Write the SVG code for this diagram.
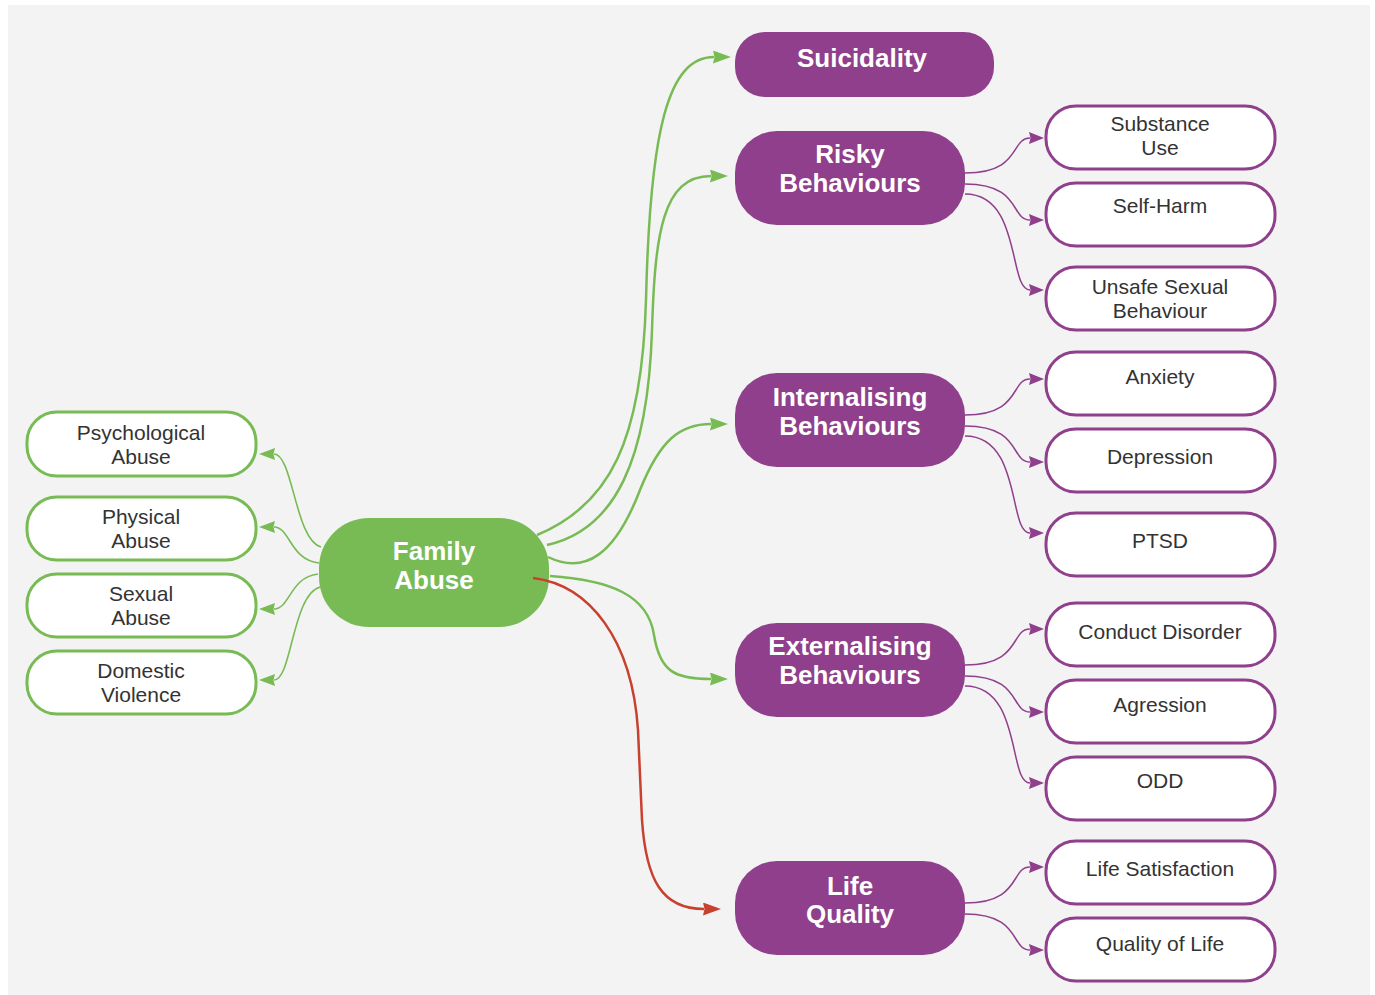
<svg xmlns="http://www.w3.org/2000/svg" width="1375" height="995" viewBox="0 0 1375 995">
  <style>
    .bg { fill: #f3f3f3; }
    .src { fill: #78bb55; }
    .leaf-g { fill: #ffffff; stroke: #78bb55; stroke-width: 3; }
    .hub { fill: #8f3f8b; }
    .leaf-p { fill: #ffffff; stroke: #8f3f8b; stroke-width: 3; }
    .t-hub { font-family: "Liberation Sans", Arial, sans-serif; font-weight: bold; font-size: 26px; fill: #ffffff; text-anchor: middle; }
    .t-leaf { font-family: "Liberation Sans", Arial, sans-serif; font-size: 21px; fill: #333333; text-anchor: middle; }
    .c-g { fill: none; stroke: #78bb55; stroke-width: 2.5; }
    .c-gl { fill: none; stroke: #78bb55; stroke-width: 1.6; }
    .c-r { fill: none; stroke: #c8402e; stroke-width: 2.5; }
    .c-p { fill: none; stroke: #8f3f8b; stroke-width: 1.5; }
  </style>
  <defs>
    <marker id="ag" viewBox="0 0 18 13" markerWidth="18" markerHeight="13" markerUnits="userSpaceOnUse" refX="1" refY="6.5" orient="auto">
      <path d="M0,0 L18,6.5 L0,13 L1.5,6.5 Z" fill="#78bb55"/>
    </marker>
    <marker id="agl" viewBox="0 0 16 12" markerWidth="16" markerHeight="12" markerUnits="userSpaceOnUse" refX="1" refY="6" orient="auto">
      <path d="M0,0 L16,6 L0,12 L1.5,6 Z" fill="#78bb55"/>
    </marker>
    <marker id="ar" viewBox="0 0 18 13" markerWidth="18" markerHeight="13" markerUnits="userSpaceOnUse" refX="1" refY="6.5" orient="auto">
      <path d="M0,0 L18,6.5 L0,13 L1.5,6.5 Z" fill="#c8402e"/>
    </marker>
    <marker id="ap" viewBox="0 0 15 12" markerWidth="15" markerHeight="12" markerUnits="userSpaceOnUse" refX="1" refY="6" orient="auto">
      <path d="M0,0 L15,6 L0,12 L1.5,6 Z" fill="#8f3f8b"/>
    </marker>
  </defs>

  <rect class="bg" x="8" y="5" width="1362" height="990"/>

  <g id="family-abuse">
    <rect class="src" x="319" y="518" width="230" height="109" rx="50"/>
    <text class="t-hub" x="434" y="560">Family</text>
    <text class="t-hub" x="434" y="589">Abuse</text>
  </g>

  <g id="psychological-abuse">
    <rect class="leaf-g" x="27" y="412" width="229" height="64" rx="30"/>
    <text class="t-leaf" x="141" y="440">Psychological</text>
    <text class="t-leaf" x="141" y="464">Abuse</text>
  </g>
  <g id="physical-abuse">
    <rect class="leaf-g" x="27" y="497" width="229" height="63" rx="30"/>
    <text class="t-leaf" x="141" y="524">Physical</text>
    <text class="t-leaf" x="141" y="548">Abuse</text>
  </g>
  <g id="sexual-abuse">
    <rect class="leaf-g" x="27" y="574" width="229" height="63" rx="30"/>
    <text class="t-leaf" x="141" y="601">Sexual</text>
    <text class="t-leaf" x="141" y="625">Abuse</text>
  </g>
  <g id="domestic-violence">
    <rect class="leaf-g" x="27" y="651" width="229" height="63" rx="30"/>
    <text class="t-leaf" x="141" y="678">Domestic</text>
    <text class="t-leaf" x="141" y="702">Violence</text>
  </g>

  <g id="suicidality">
    <rect class="hub" x="735" y="32" width="259" height="65" rx="30"/>
    <text class="t-hub" x="862" y="67">Suicidality</text>
  </g>
  <g id="risky-behaviours">
    <rect class="hub" x="735" y="131" width="230" height="94" rx="42"/>
    <text class="t-hub" x="850" y="163">Risky</text>
    <text class="t-hub" x="850" y="192">Behaviours</text>
  </g>
  <g id="internalising-behaviours">
    <rect class="hub" x="735" y="373" width="230" height="94" rx="42"/>
    <text class="t-hub" x="850" y="406">Internalising</text>
    <text class="t-hub" x="850" y="435">Behaviours</text>
  </g>
  <g id="externalising-behaviours">
    <rect class="hub" x="735" y="623" width="230" height="94" rx="42"/>
    <text class="t-hub" x="850" y="655">Externalising</text>
    <text class="t-hub" x="850" y="684">Behaviours</text>
  </g>
  <g id="life-quality">
    <rect class="hub" x="735" y="861" width="230" height="94" rx="42"/>
    <text class="t-hub" x="850" y="895">Life</text>
    <text class="t-hub" x="850" y="923">Quality</text>
  </g>

  <g id="substance-use">
    <rect class="leaf-p" x="1046" y="106" width="229" height="63" rx="30"/>
    <text class="t-leaf" x="1160" y="131">Substance</text>
    <text class="t-leaf" x="1160" y="155">Use</text>
  </g>
  <g id="self-harm">
    <rect class="leaf-p" x="1046" y="183" width="229" height="63" rx="30"/>
    <text class="t-leaf" x="1160" y="213">Self-Harm</text>
  </g>
  <g id="unsafe-sexual-behaviour">
    <rect class="leaf-p" x="1046" y="267" width="229" height="63" rx="30"/>
    <text class="t-leaf" x="1160" y="294">Unsafe Sexual</text>
    <text class="t-leaf" x="1160" y="318">Behaviour</text>
  </g>
  <g id="anxiety">
    <rect class="leaf-p" x="1046" y="352" width="229" height="63" rx="30"/>
    <text class="t-leaf" x="1160" y="384">Anxiety</text>
  </g>
  <g id="depression">
    <rect class="leaf-p" x="1046" y="429" width="229" height="63" rx="30"/>
    <text class="t-leaf" x="1160" y="464">Depression</text>
  </g>
  <g id="ptsd">
    <rect class="leaf-p" x="1046" y="513" width="229" height="63" rx="30"/>
    <text class="t-leaf" x="1160" y="548">PTSD</text>
  </g>
  <g id="conduct-disorder">
    <rect class="leaf-p" x="1046" y="603" width="229" height="63" rx="30"/>
    <text class="t-leaf" x="1160" y="639">Conduct Disorder</text>
  </g>
  <g id="agression">
    <rect class="leaf-p" x="1046" y="680" width="229" height="63" rx="30"/>
    <text class="t-leaf" x="1160" y="712">Agression</text>
  </g>
  <g id="odd">
    <rect class="leaf-p" x="1046" y="757" width="229" height="63" rx="30"/>
    <text class="t-leaf" x="1160" y="788">ODD</text>
  </g>
  <g id="life-satisfaction">
    <rect class="leaf-p" x="1046" y="841" width="229" height="63" rx="30"/>
    <text class="t-leaf" x="1160" y="876">Life Satisfaction</text>
  </g>
  <g id="quality-of-life">
    <rect class="leaf-p" x="1046" y="918" width="229" height="63" rx="30"/>
    <text class="t-leaf" x="1160" y="951">Quality of Life</text>
  </g>

  <g id="connectors">
    <!-- Family Abuse to left types -->
    <path class="c-gl" d="M321,547 C295,540 293,454 274,454" marker-end="url(#agl)"/>
    <path class="c-gl" d="M319,563 C290,560 290,527 274,527" marker-end="url(#agl)"/>
    <path class="c-gl" d="M318,574 C290,577 290,609 274,609" marker-end="url(#agl)"/>
    <path class="c-gl" d="M320,587 C292,595 292,680 274,680" marker-end="url(#agl)"/>
    <!-- Family Abuse to outcomes -->
    <path class="c-g" d="M537,535 C610,505 642,440 646,300 C650,130 668,57 714,57" marker-end="url(#ag)"/>
    <path class="c-g" d="M547,545 C615,530 648,460 652,330 C655,235 662,176 711,176" marker-end="url(#ag)"/>
    <path class="c-g" d="M548,557 C585,575 615,555 640,490 C660,440 680,424 711,424" marker-end="url(#ag)"/>
    <path class="c-g" d="M550,576 C610,580 648,595 654,635 C660,672 675,679 711,679" marker-end="url(#ag)"/>
    <path class="c-r" d="M533,578 C590,585 632,640 638,730 L642,820 C646,880 662,909 704,909" marker-end="url(#ar)"/>
    <!-- Risky Behaviours -->
    <path class="c-p" d="M965,173 C1022,173 1010,138 1030,138" marker-end="url(#ap)"/>
    <path class="c-p" d="M965,184 C1022,184 1010,220 1030,220" marker-end="url(#ap)"/>
    <path class="c-p" d="M965,194 C1022,194 1008,290 1030,290" marker-end="url(#ap)"/>
    <!-- Internalising -->
    <path class="c-p" d="M965,415 C1022,415 1010,379 1030,379" marker-end="url(#ap)"/>
    <path class="c-p" d="M965,426 C1022,426 1010,462 1030,462" marker-end="url(#ap)"/>
    <path class="c-p" d="M965,436 C1022,436 1008,533 1030,533" marker-end="url(#ap)"/>
    <!-- Externalising -->
    <path class="c-p" d="M965,665 C1022,665 1010,629 1030,629" marker-end="url(#ap)"/>
    <path class="c-p" d="M965,676 C1022,676 1010,712 1030,712" marker-end="url(#ap)"/>
    <path class="c-p" d="M965,686 C1022,686 1008,783 1030,783" marker-end="url(#ap)"/>
    <!-- Life Quality -->
    <path class="c-p" d="M965,903 C1022,903 1010,867 1030,867" marker-end="url(#ap)"/>
    <path class="c-p" d="M965,914 C1022,914 1010,950 1030,950" marker-end="url(#ap)"/>
  </g>
</svg>
